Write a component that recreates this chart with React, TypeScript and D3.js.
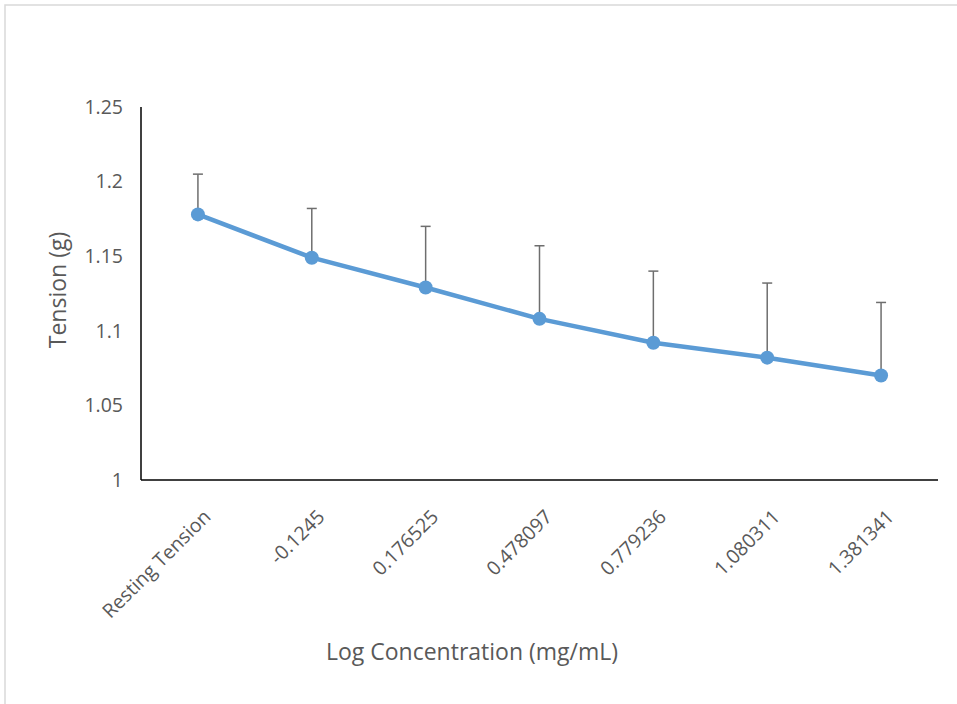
import React, { useEffect, useRef } from 'react';
import * as d3 from 'd3';

const categories = ['Resting Tension', '-0.1245', '0.176525', '0.478097', '0.779236', '1.080311', '1.381341'];
const tension = [1.178, 1.149, 1.129, 1.108, 1.092, 1.082, 1.07];
const errorPlus = [0.027, 0.033, 0.041, 0.049, 0.048, 0.05, 0.049];
const yTicks = [1, 1.05, 1.1, 1.15, 1.2, 1.25];

const App = () => {
  const svgRef = useRef<SVGSVGElement>(null);

  useEffect(() => {
    const width = 957;
    const height = 704;
    const margin = { top: 107, right: 19, bottom: 224, left: 141 };
    const innerW = width - margin.left - margin.right;
    const innerH = height - margin.top - margin.bottom;
    const font = "'Open Sans', sans-serif";
    const textColor = '#595959';

    const svg = d3.select(svgRef.current);
    svg.selectAll('*').remove();

    svg.append('rect').attr('x', 0).attr('y', 0).attr('width', width).attr('height', height).attr('fill', '#fff');
    // outer chart border (top and left visible)
    svg.append('path').attr('d', 'M5,704 V5 H957').attr('fill', 'none').attr('stroke', '#d9d9d9').attr('stroke-width', 1.5);

    const g = svg.append('g').attr('transform', `translate(${margin.left},${margin.top})`);

    const x = d3.scaleBand().domain(categories).range([0, innerW]);
    const y = d3.scaleLinear().domain([1, 1.25]).range([innerH, 0]);

    // y tick labels
    g.selectAll('.ytick')
      .data(yTicks)
      .enter()
      .append('text')
      .attr('x', -18)
      .attr('y', (d) => y(d))
      .attr('dy', '0.35em')
      .attr('text-anchor', 'end')
      .attr('font-family', font)
      .attr('font-size', 19.5)
      .attr('fill', textColor)
      .text((d) => String(d));

    // axes lines
    g.append('line').attr('x1', 0).attr('x2', 0).attr('y1', 0).attr('y2', innerH).attr('stroke', '#000').attr('stroke-width', 1.5);
    g.append('line').attr('x1', 0).attr('x2', innerW).attr('y1', innerH).attr('y2', innerH).attr('stroke', '#000').attr('stroke-width', 1.5);

    // x tick labels, rotated
    g.selectAll('.xtick')
      .data(categories)
      .enter()
      .append('text')
      .attr('transform', (d) => `translate(${(x(d) as number) + x.bandwidth() / 2 + 14},${innerH + 38}) rotate(-45)`)
      .attr('text-anchor', 'end')
      .attr('font-family', font)
      .attr('font-size', 19.5)
      .attr('fill', textColor)
      .text((d) => d);

    const cx = (i: number) => (x(categories[i]) as number) + x.bandwidth() / 2;

    // error bars (plus only)
    const eb = g.selectAll('.err').data(tension).enter().append('g');
    eb.append('line')
      .attr('x1', (_, i) => cx(i))
      .attr('x2', (_, i) => cx(i))
      .attr('y1', (d) => y(d))
      .attr('y2', (d, i) => y(d + errorPlus[i]))
      .attr('stroke', '#6e6e6e')
      .attr('stroke-width', 1.5);
    eb.append('line')
      .attr('x1', (_, i) => cx(i) - 5)
      .attr('x2', (_, i) => cx(i) + 5)
      .attr('y1', (d, i) => y(d + errorPlus[i]))
      .attr('y2', (d, i) => y(d + errorPlus[i]))
      .attr('stroke', '#6e6e6e')
      .attr('stroke-width', 1.5);

    const line = d3
      .line<number>()
      .x((_, i) => cx(i))
      .y((d) => y(d));

    g.append('path')
      .datum(tension)
      .attr('d', line)
      .attr('fill', 'none')
      .attr('stroke', '#5b9bd5')
      .attr('stroke-width', 4.5)
      .attr('stroke-linejoin', 'round');

    g.selectAll('.pt')
      .data(tension)
      .enter()
      .append('circle')
      .attr('cx', (_, i) => cx(i))
      .attr('cy', (d) => y(d))
      .attr('r', 7)
      .attr('fill', '#5b9bd5');

    // axis titles
    svg.append('text')
      .attr('x', 472)
      .attr('y', 660)
      .attr('text-anchor', 'middle')
      .attr('font-family', font)
      .attr('font-size', 23)
      .attr('fill', textColor)
      .text('Log Concentration (mg/mL)');

    svg.append('text')
      .attr('transform', 'translate(66,290) rotate(-90)')
      .attr('text-anchor', 'middle')
      .attr('font-family', font)
      .attr('font-size', 23)
      .attr('fill', textColor)
      .text('Tension (g)');
  }, []);

  return (
    <svg
      ref={svgRef}
      width={957}
      height={704}
      style={{ position: 'absolute', left: 0, top: 0, display: 'block' }}
    ></svg>
  );
};

export default App;
